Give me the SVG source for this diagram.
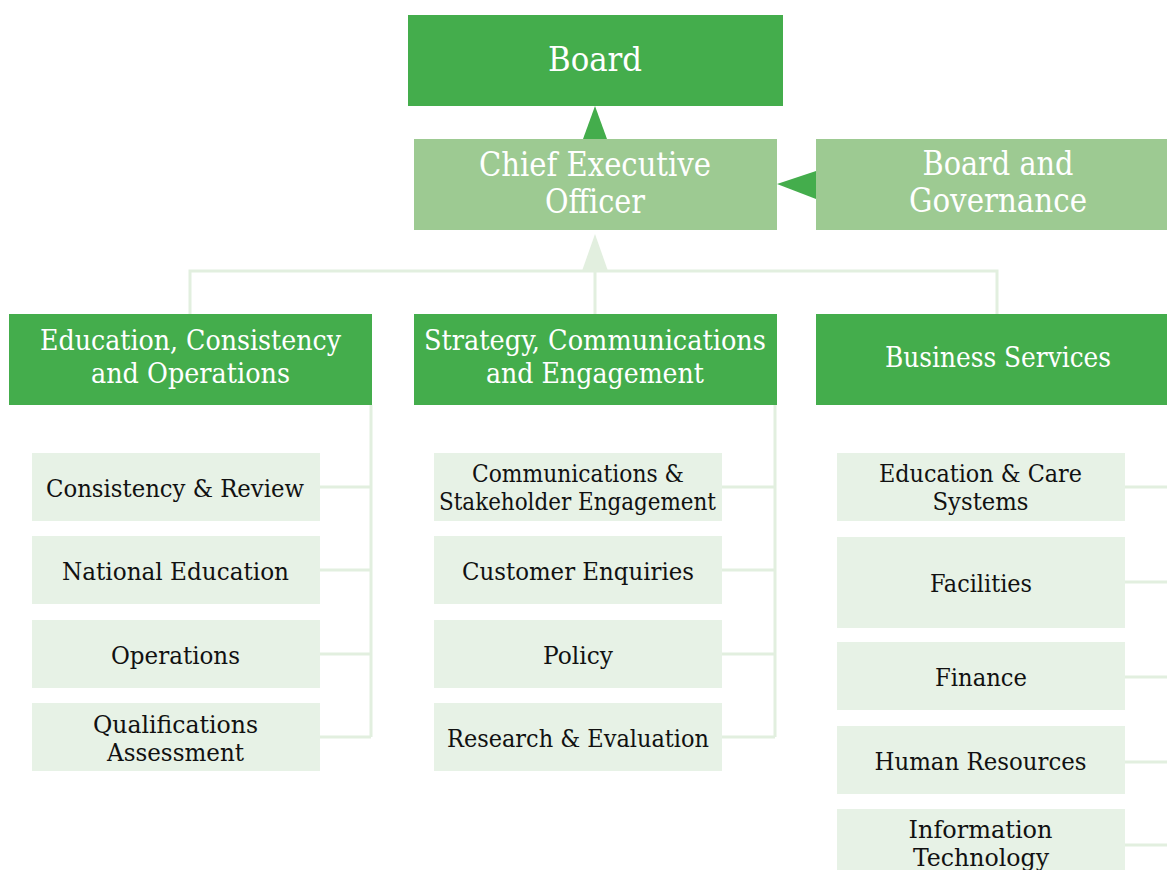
<svg xmlns="http://www.w3.org/2000/svg" width="1167" height="870" viewBox="0 0 1167 870">
  <style>
    .lead { fill: #44ad4c; }
    .exec { fill: #9dca92; }
    .unit { fill: #e7f2e6; }
    .wire { fill: none; stroke: #e2efdf; stroke-width: 3; }
    text { font-family: "DejaVu Serif Condensed", "DejaVu Serif", "Liberation Serif", serif; text-anchor: middle; }
    .t-top { fill: #ffffff; font-size: 33px; }
    .t-div { fill: #ffffff; font-size: 28.5px; }
    .t-unit { fill: #111111; font-size: 25px; }
  </style>
  <rect width="1167" height="870" fill="#ffffff"/>

  <!-- connectors -->
  <g id="connectors">
    <polygon points="595,106 583,139 607,139" fill="#44ad4c"/>
    <polygon points="777,184 816,171 816,199" fill="#44ad4c"/>
    <polygon points="595,234 582,271 608,271" fill="#e2efdf"/>
    <path class="wire" d="M190,314 V271 H997 V314 M595,271 V314"/>
    <!-- left division -->
    <path class="wire" d="M371,405 V737 M320,487 H371 M320,570 H371 M320,654 H371 M320,737 H371"/>
    <!-- middle division -->
    <path class="wire" d="M775,405 V737 M722,487 H775 M722,570 H775 M722,654 H775 M722,737 H775"/>
    <!-- right division -->
    <path class="wire" d="M1125,487 H1167 M1125,582 H1167 M1125,677 H1167 M1125,762 H1167 M1125,845 H1167"/>
  </g>

  <!-- top level -->
  <g id="board">
    <rect class="lead" x="408" y="15" width="375" height="91"/>
    <text class="t-top" x="595" y="71" textLength="94" lengthAdjust="spacingAndGlyphs">Board</text>
  </g>
  <g id="ceo">
    <rect class="exec" x="414" y="139" width="363" height="91"/>
    <text class="t-top" x="595" y="176" textLength="232" lengthAdjust="spacingAndGlyphs">Chief Executive</text>
    <text class="t-top" x="595" y="213" textLength="100" lengthAdjust="spacingAndGlyphs">Officer</text>
  </g>
  <g id="board-governance">
    <rect class="exec" x="816" y="139" width="363" height="91"/>
    <text class="t-top" x="998" y="175" textLength="151" lengthAdjust="spacingAndGlyphs">Board and</text>
    <text class="t-top" x="998" y="212" textLength="178" lengthAdjust="spacingAndGlyphs">Governance</text>
  </g>

  <!-- divisions -->
  <g id="div-eco">
    <rect class="lead" x="9" y="314" width="363" height="91"/>
    <text class="t-div" x="190.5" y="350" textLength="301" lengthAdjust="spacingAndGlyphs">Education, Consistency</text>
    <text class="t-div" x="190.5" y="383" textLength="199" lengthAdjust="spacingAndGlyphs">and Operations</text>
  </g>
  <g id="div-sce">
    <rect class="lead" x="414" y="314" width="363" height="91"/>
    <text class="t-div" x="595" y="350" textLength="342" lengthAdjust="spacingAndGlyphs">Strategy, Communications</text>
    <text class="t-div" x="595" y="383" textLength="218" lengthAdjust="spacingAndGlyphs">and Engagement</text>
  </g>
  <g id="div-bs">
    <rect class="lead" x="816" y="314" width="363" height="91"/>
    <text class="t-div" x="998" y="367" textLength="226" lengthAdjust="spacingAndGlyphs">Business Services</text>
  </g>

  <!-- units: Education, Consistency and Operations -->
  <g id="unit-consistency-review">
    <rect class="unit" x="32" y="453" width="288" height="68"/>
    <text class="t-unit" x="175" y="497" textLength="258" lengthAdjust="spacingAndGlyphs">Consistency &amp; Review</text>
  </g>
  <g id="unit-national-education">
    <rect class="unit" x="32" y="536" width="288" height="68"/>
    <text class="t-unit" x="175.5" y="580" textLength="227" lengthAdjust="spacingAndGlyphs">National Education</text>
  </g>
  <g id="unit-operations">
    <rect class="unit" x="32" y="620" width="288" height="68"/>
    <text class="t-unit" x="175.5" y="664" textLength="129" lengthAdjust="spacingAndGlyphs">Operations</text>
  </g>
  <g id="unit-qualifications">
    <rect class="unit" x="32" y="703" width="288" height="68"/>
    <text class="t-unit" x="175.5" y="733" textLength="165" lengthAdjust="spacingAndGlyphs">Qualifications</text>
    <text class="t-unit" x="175.5" y="761" textLength="137" lengthAdjust="spacingAndGlyphs">Assessment</text>
  </g>

  <!-- units: Strategy, Communications and Engagement -->
  <g id="unit-communications">
    <rect class="unit" x="434" y="453" width="288" height="68"/>
    <text class="t-unit" x="578" y="482" textLength="212" lengthAdjust="spacingAndGlyphs">Communications &amp;</text>
    <text class="t-unit" x="577.5" y="510" textLength="277" lengthAdjust="spacingAndGlyphs">Stakeholder Engagement</text>
  </g>
  <g id="unit-customer-enquiries">
    <rect class="unit" x="434" y="536" width="288" height="68"/>
    <text class="t-unit" x="578" y="580" textLength="232" lengthAdjust="spacingAndGlyphs">Customer Enquiries</text>
  </g>
  <g id="unit-policy">
    <rect class="unit" x="434" y="620" width="288" height="68"/>
    <text class="t-unit" x="578" y="664" textLength="70" lengthAdjust="spacingAndGlyphs">Policy</text>
  </g>
  <g id="unit-research">
    <rect class="unit" x="434" y="703" width="288" height="68"/>
    <text class="t-unit" x="578" y="747" textLength="262" lengthAdjust="spacingAndGlyphs">Research &amp; Evaluation</text>
  </g>

  <!-- units: Business Services -->
  <g id="unit-ecs">
    <rect class="unit" x="837" y="453" width="288" height="68"/>
    <text class="t-unit" x="980.5" y="482" textLength="203" lengthAdjust="spacingAndGlyphs">Education &amp; Care</text>
    <text class="t-unit" x="980.5" y="510" textLength="96" lengthAdjust="spacingAndGlyphs">Systems</text>
  </g>
  <g id="unit-facilities">
    <rect class="unit" x="837" y="537" width="288" height="91"/>
    <text class="t-unit" x="981" y="592" textLength="102" lengthAdjust="spacingAndGlyphs">Facilities</text>
  </g>
  <g id="unit-finance">
    <rect class="unit" x="837" y="642" width="288" height="68"/>
    <text class="t-unit" x="981" y="686" textLength="92" lengthAdjust="spacingAndGlyphs">Finance</text>
  </g>
  <g id="unit-hr">
    <rect class="unit" x="837" y="726" width="288" height="68"/>
    <text class="t-unit" x="980.5" y="770" textLength="212" lengthAdjust="spacingAndGlyphs">Human Resources</text>
  </g>
  <g id="unit-it">
    <rect class="unit" x="837" y="809" width="288" height="68"/>
    <text class="t-unit" x="980.5" y="838" textLength="144" lengthAdjust="spacingAndGlyphs">Information</text>
    <text class="t-unit" x="981" y="866" textLength="136" lengthAdjust="spacingAndGlyphs">Technology</text>
  </g>
</svg>
